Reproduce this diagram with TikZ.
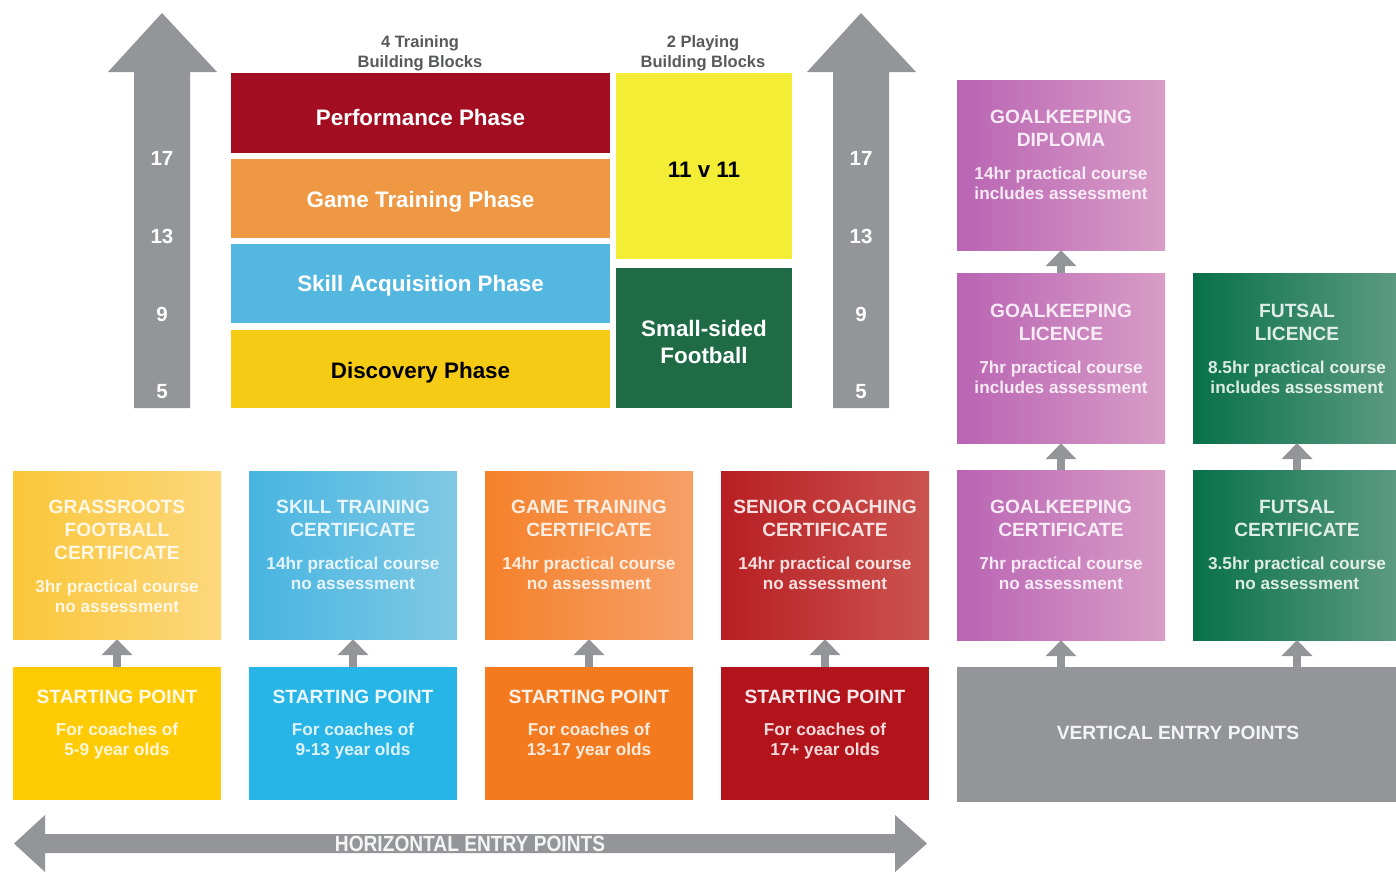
\documentclass[tikz,border=0pt]{standalone}
\usepackage{fontspec}
\setmainfont{Liberation Sans}
\usetikzlibrary{arrows.meta}
\definecolor{fagray}{HTML}{939598}
\definecolor{hdrgray}{HTML}{58595B}
\definecolor{perf}{HTML}{A20D21}
\definecolor{gamep}{HTML}{EE9843}
\definecolor{skillp}{HTML}{54B7E0}
\definecolor{discp}{HTML}{F6CB15}
\definecolor{elevenc}{HTML}{F3EE35}
\definecolor{ssfc}{HTML}{1E6B45}
\definecolor{yelA}{HTML}{FAC73A}\definecolor{yelB}{HTML}{FCD77C}\definecolor{yelS}{HTML}{FFCB05}
\definecolor{bluA}{HTML}{47B5E1}\definecolor{bluB}{HTML}{80C9E4}\definecolor{bluS}{HTML}{27B4E6}
\definecolor{oraA}{HTML}{F5812A}\definecolor{oraB}{HTML}{F6A068}\definecolor{oraS}{HTML}{F47A1F}
\definecolor{redA}{HTML}{B81E22}\definecolor{redB}{HTML}{CB5450}\definecolor{redS}{HTML}{B3141B}
\definecolor{purA}{HTML}{B964B3}\definecolor{purB}{HTML}{D89DC7}
\definecolor{grnA}{HTML}{08714A}\definecolor{grnB}{HTML}{5C9A82}
\tikzset{
  phtext/.style={inner sep=0pt, text=white, align=center, font=\fontsize{22.4}{27}\selectfont\bfseries},
  phase/.style={rectangle, inner sep=0pt, minimum width=379pt},
  block/.style={rectangle, inner sep=0pt, minimum width=176pt},
  cert/.style={rectangle, inner sep=0pt, minimum width=208pt, minimum height=168pt},
  spbox/.style={rectangle, inner sep=0pt, minimum width=208pt, minimum height=133pt},
  rbox/.style={rectangle, inner sep=0pt, minimum width=208pt, minimum height=170pt},
  ctitle/.style={inner sep=0pt, align=center, text=white, text opacity=0.85, font=\fontsize{19.2}{23}\selectfont\bfseries},
  csub/.style={inner sep=0pt, align=center, text=white, text opacity=0.85, font=\fontsize{17.2}{20}\selectfont\bfseries},
  sptitle/.style={inner sep=0pt, align=center, text=white, text opacity=0.9, font=\fontsize{19.2}{23}\selectfont\bfseries},
  agenum/.style={inner sep=0pt, text=white, font=\fontsize{20.5}{24}\selectfont\bfseries},
  hdr/.style={inner sep=0pt, align=center, text=hdrgray, font=\fontsize{16.5}{20}\selectfont\bfseries},
  uparrow/.style={draw=fagray, line width=8pt, -{Triangle[width=30pt,length=16pt]}},
}
\begin{document}
\begin{tikzpicture}[x=1pt,y=-1pt]
\useasboundingbox (0,0) rectangle (1396,873);
\fill[white] (0,0) rectangle (1396,873);

% big vertical arrows
\fill[fagray] (134,408) -- (134,72) -- (108,72) -- (162,13) -- (217,72) -- (190,72) -- (190,408) -- cycle;
\fill[fagray] (833,408) -- (833,72) -- (807,72) -- (861,13) -- (916,72) -- (889,72) -- (889,408) -- cycle;
\foreach \v/\yy [count=\i] in {17/158,13/236,9/314,5/392}{
  \node[agenum] (la\i) at (162,\yy) {\v};
  \node[agenum] (ra\i) at (861,\yy) {\v};
}

% headers
\node[hdr] (h4) at (420,53) {4 Training\\Building Blocks};
\node[hdr] (h2) at (703,53) {2 Playing\\Building Blocks};

% phases
\node[phase, fill=perf, minimum height=80pt] (perfp) at (420.5,113) {};
\node[phase, fill=gamep, minimum height=79pt] (gamephase) at (420.5,198.5) {};
\node[phase, fill=skillp, minimum height=79pt] (skillphase) at (420.5,283.5) {};
\node[phase, fill=discp, minimum height=78pt] (discphase) at (420.5,369) {};
\node[phtext] (perft) at (420.5,117) {Performance Phase};
\node[phtext] (gamet) at (420.5,202) {Game Training Phase};
\node[phtext] (skillt) at (420.5,286) {Skill Acquisition Phase};
\node[phtext, text=black] (disct) at (420.5,372.5) {Discovery Phase};

\node[block, fill=elevenc, minimum height=186pt] (eleven) at (704,166) {};
\node[block, fill=ssfc, minimum height=140pt] (ssf) at (704,338) {};
\node[phtext, text=black] (elevent) at (704,170) {11 v 11};
\node[phtext] (ssft) at (704,342) {Small-sided\\Football};

% certificate boxes
\node[cert, left color=yelA, right color=yelB] (c1) at (117,555) {};
\node[cert, left color=bluA, right color=bluB] (c2) at (353,555) {};
\node[cert, left color=oraA, right color=oraB] (c3) at (589,555) {};
\node[cert, left color=redA, right color=redB] (c4) at (825,555) {};

\node[ctitle] (c1t) at (117,530) {GRASSROOTS\\FOOTBALL\\CERTIFICATE};
\node[csub] (c1s) at (117,596) {3hr practical course\\no assessment};
\node[ctitle] (c2t) at (353,518) {SKILL TRAINING\\CERTIFICATE};
\node[csub] (c2s) at (353,573) {14hr practical course\\no assessment};
\node[ctitle] (c3t) at (589,518) {GAME TRAINING\\CERTIFICATE};
\node[csub] (c3s) at (589,573) {14hr practical course\\no assessment};
\node[ctitle] (c4t) at (825,518) {SENIOR COACHING\\CERTIFICATE};
\node[csub] (c4s) at (825,573) {14hr practical course\\no assessment};

% starting points
\node[spbox, fill=yelS] (s1) at (117,733.5) {};
\node[spbox, fill=bluS] (s2) at (353,733.5) {};
\node[spbox, fill=oraS] (s3) at (589,733.5) {};
\node[spbox, fill=redS] (s4) at (825,733.5) {};
\foreach \cx/\txt [count=\i] in {117/5-9 year olds,353/9-13 year olds,589/13-17 year olds,825/17+ year olds}{
  \node[sptitle] (s\i t) at (\cx,697) {STARTING POINT};
  \node[csub] (s\i s) at (\cx,741) {For coaches of\\\txt};
}
\foreach \i in {1,...,4}{ \draw[uparrow] (s\i.north) -- (c\i.south); }

% right side
\node[rbox, left color=purA, right color=purB] (gkd) at (1061,165) {};
\node[rbox, left color=purA, right color=purB] (gkl) at (1061,358) {};
\node[rbox, left color=purA, right color=purB] (gkc) at (1061,555) {};
\node[rbox, minimum width=203pt, left color=grnA, right color=grnB] (fl) at (1294.5,358) {};
\node[rbox, minimum width=203pt, left color=grnA, right color=grnB] (fc) at (1294.5,555) {};
\node[rectangle, inner sep=0pt, fill=fagray, minimum width=439pt, minimum height=135pt] (vep) at (1176.5,734.5) {};

\node[ctitle] (gkdt) at (1061,128) {GOALKEEPING\\DIPLOMA};
\node[csub] (gkds) at (1061,183) {14hr practical course\\includes assessment};
\node[ctitle] (gklt) at (1061,322) {GOALKEEPING\\LICENCE};
\node[csub] (gkls) at (1061,377) {7hr practical course\\includes assessment};
\node[ctitle] (flt) at (1297,322) {FUTSAL\\LICENCE};
\node[csub] (fls) at (1297,377) {8.5hr practical course\\includes assessment};
\node[ctitle] (gkct) at (1061,518) {GOALKEEPING\\CERTIFICATE};
\node[csub] (gkcs) at (1061,573) {7hr practical course\\no assessment};
\node[ctitle] (fct) at (1297,518) {FUTSAL\\CERTIFICATE};
\node[csub] (fcs) at (1297,573) {3.5hr practical course\\no assessment};
\node[sptitle] (vept) at (1178,733) {VERTICAL ENTRY POINTS};

\coordinate (vgk) at (1061,667);
\coordinate (vft) at (1297,667);
\coordinate (fcS) at (1297,640);
\coordinate (fcN) at (1297,470);
\coordinate (flS) at (1297,443);
\draw[uparrow] (gkl.north) -- (gkd.south);
\draw[uparrow] (gkc.north) -- (gkl.south);
\draw[uparrow] (vgk) -- (gkc.south);
\draw[uparrow] (vft) -- (fcS);
\draw[uparrow] (fcN) -- (flS);

% horizontal arrow
\fill[fagray] (14,843.5) -- (45,815) -- (45,834) -- (895,834) -- (895,815) -- (927,843.5) -- (895,872) -- (895,853) -- (45,853) -- (45,872) -- cycle;
\node[inner sep=0pt, text=white, text opacity=0.9, font=\fontsize{22}{24}\selectfont\bfseries, xscale=0.87] (hep) at (470,844) {HORIZONTAL ENTRY POINTS};
\end{tikzpicture}
\end{document}
